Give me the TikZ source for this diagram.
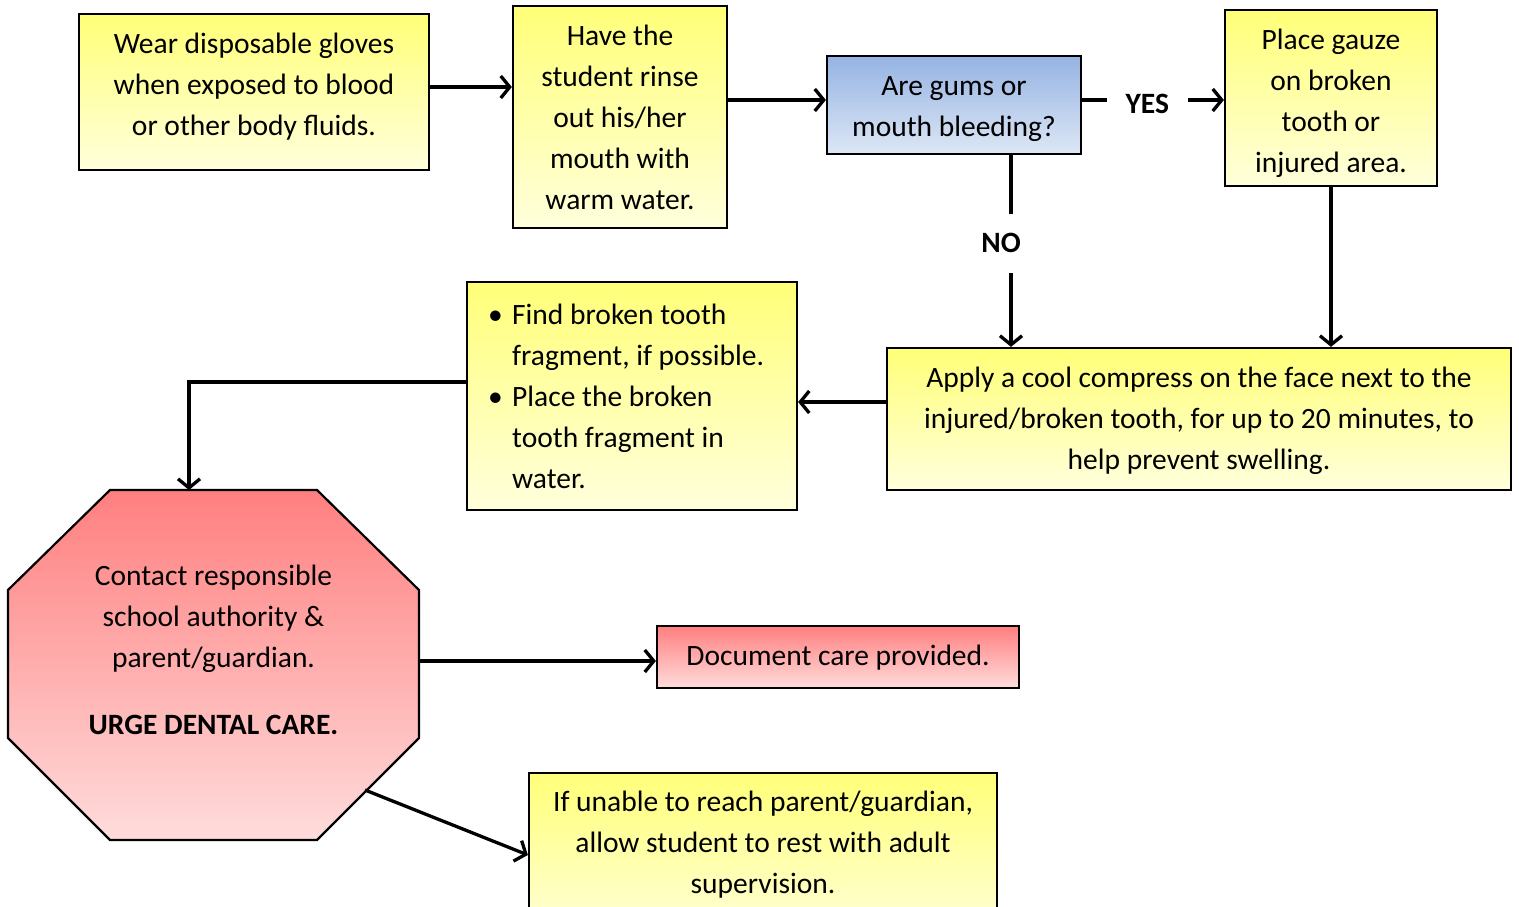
\documentclass[tikz,border=0pt]{standalone}
\usepackage{fontspec}
\setmainfont{Carlito}
\usetikzlibrary{arrows.meta,shadings}
\definecolor{ytop}{HTML}{FFFF78}
\definecolor{ybot}{HTML}{FFFFDC}
\definecolor{btop}{HTML}{95B3E3}
\definecolor{bbot}{HTML}{DDE7F5}
\definecolor{rtop}{HTML}{FF7F7F}
\definecolor{rbot}{HTML}{FFDCDC}
\newcommand{\bul}{\makebox[24pt][l]{\textbullet}}
\newcommand{\ind}{\hspace*{24pt}}
\tikzset{
  shapebox/.style={draw=black, line width=2.2pt, inner sep=0pt},
  ybox/.style={shapebox, top color=ytop, bottom color=ybot},
  bbox/.style={shapebox, top color=btop, bottom color=bbot},
  rbox/.style={shapebox, top color=rtop, bottom color=rbot},
  txt/.style={align=center, inner sep=0pt, font=\fontsize{29.5}{41}\selectfont},
  arr/.style={line width=3.3pt, -{Straight Barb[length=9pt,width=22pt,line width=3.3pt]}},
  lbl/.style={fill=white, font=\fontsize{29.5}{30}\selectfont\bfseries, inner xsep=19pt, inner ysep=20pt},
}
\begin{document}
\begin{tikzpicture}[x=1pt,y=-1pt]
\useasboundingbox (0,0) rectangle (1519,907);
\fill[white] (0,0) rectangle (1519,907);

% first row
\node[ybox, minimum width=350pt, minimum height=156pt] (gloves) at (254,92) {};
\node[txt] (glovestxt) at (254,87)
  {Wear disposable gloves\\when exposed to blood\\or other body fluids.};
\node[ybox, minimum width=214pt, minimum height=222pt] (rinse) at (620,117) {};
\node[txt] (rinsetxt) at (620,117)
  {Have the\\student rinse\\out his/her\\mouth with\\warm water.};
\node[bbox, minimum width=254pt, minimum height=98pt] (bleed) at (954,105) {};
\node[txt] (bleedtxt) at (954,109) {Are gums or\\mouth bleeding?};
\node[ybox, minimum width=212pt, minimum height=176pt] (gauze) at (1331,98) {};
\node[txt] (gauzetxt) at (1331,103)
  {Place gauze\\on broken\\tooth or\\injured area.};

% second row
\node[ybox, minimum width=624pt, minimum height=142pt] (apply) at (1199,419) {};
\node[txt] (applytxt) at (1199,421)
  {Apply a cool compress on the face next to the\\injured/broken tooth, for up to 20 minutes, to\\help prevent swelling.};
\node[ybox, minimum width=330pt, minimum height=228pt] (frag) at (632,396) {};
\node[txt, align=left, anchor=west] (fragtxt) at (488,396)
  {\bul Find broken tooth\\\ind fragment, if possible.\\\bul Place the broken\\\ind tooth fragment in\\\ind water.};

% octagon
\shade[top color=rtop, bottom color=rbot, draw=black, line width=2.2pt]
  (110,490) -- (317,490) -- (419,590) -- (419,738) -- (317,840)
  -- (110,840) -- (8,738) -- (8,590) -- cycle;
\node[minimum width=411pt, minimum height=350pt, inner sep=0pt] (oct) at (213.5,665) {};
\node[txt] (octtxt) at (213.5,650)
  {Contact responsible\\school authority \&\\parent/guardian.\\[26pt]\textbf{URGE DENTAL CARE.}};
\coordinate (octtop) at (189,490);
\coordinate (octse) at (365,790);

% last steps
\node[rbox, minimum width=362pt, minimum height=62pt] (doc) at (838,657) {};
\node[txt] (doctxt) at (838,658) {Document care provided.};
\node[ybox, minimum width=468pt, minimum height=166pt, anchor=north] (unable) at (763,772) {};
\node[txt, anchor=north] (unabletxt) at (763,791)
  {If unable to reach parent/guardian,\\allow student to rest with adult\\supervision.};

% connectors
\draw[arr] (gloves.east |- 0,87) -- (rinse.west |- 0,87);
\draw[arr] (rinse.east |- 0,100) -- (bleed.west |- 0,100);
\draw[arr] (bleed.east |- 0,100) -- node[lbl, pos=0.46, yshift=-4pt] {YES} (gauze.west |- 0,100);
\coordinate (nox) at (1011,0);
\draw[arr] (bleed.south -| nox) -- node[lbl, pos=0.46, xshift=-10pt] {NO} (apply.north -| nox);
\draw[arr] (gauze.south) -- (apply.north -| gauze.south);
\draw[arr] (apply.west |- 0,402) -- (frag.east |- 0,402);
\draw[arr] (frag.west |- 0,382) -| (octtop);
\draw[arr] (oct.east |- 0,661) -- (doc.west |- 0,661);
\draw[arr] (octse) -- (unable.west |- 0,855);
\end{tikzpicture}
\end{document}
